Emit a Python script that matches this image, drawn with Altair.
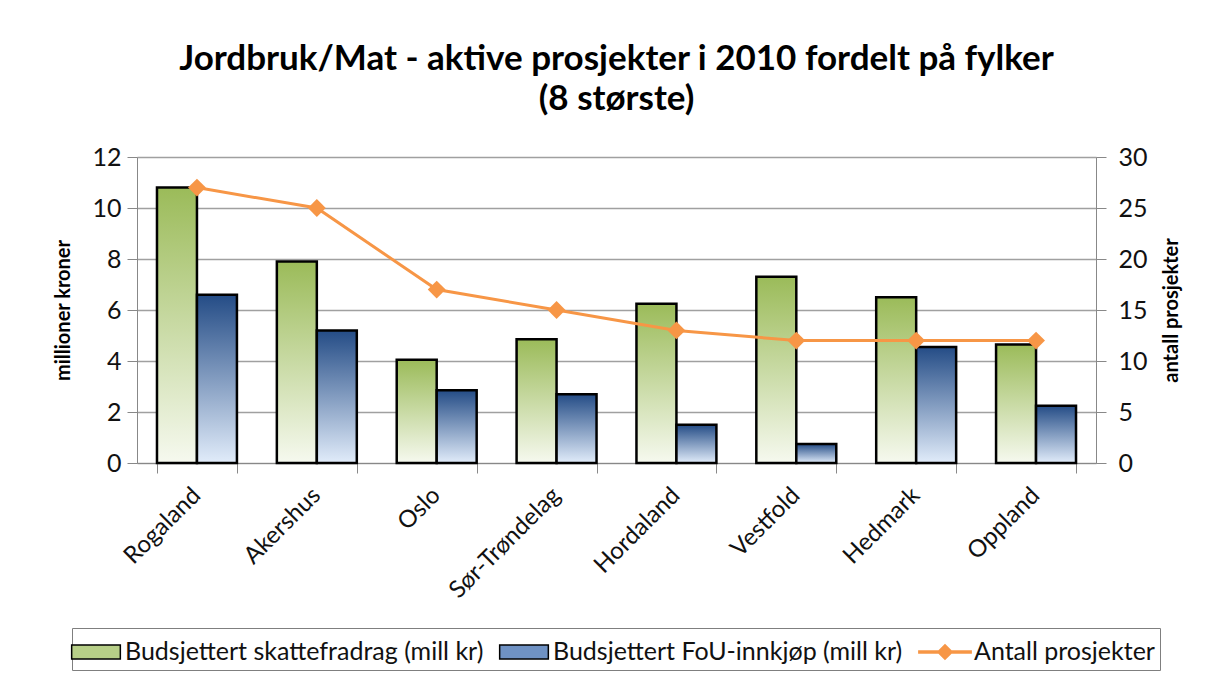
import altair as alt
import pandas as pd

fylker = ["Rogaland", "Akershus", "Oslo", "Sør-Trøndelag", "Hordaland", "Vestfold", "Hedmark", "Oppland"]
skattefradrag = [10.8, 7.9, 4.05, 4.85, 6.25, 7.3, 6.5, 4.65]
fou_innkjop = [6.6, 5.2, 2.85, 2.7, 1.5, 0.75, 4.55, 2.25]
antall = [27, 25, 17, 15, 13, 12, 12, 12]

S1 = "Budsjettert skattefradrag (mill kr)"
S2 = "Budsjettert FoU-innkjøp (mill kr)"
S3 = "Antall prosjekter"
series = [S1, S2, S3]

bars_df = pd.DataFrame(
    [{"fylke": f, "serie": S1, "verdi": v} for f, v in zip(fylker, skattefradrag)]
    + [{"fylke": f, "serie": S2, "verdi": v} for f, v in zip(fylker, fou_innkjop)]
)
line_df = pd.DataFrame({"fylke": fylker, "antall": antall, "serie": S3})

FONT = "Lato"
GREEN_GRAD = {"gradient": "linear", "x1": 0, "y1": 0, "x2": 0, "y2": 1,
              "stops": [{"offset": 0, "color": "#9BBB59"}, {"offset": 1, "color": "#F6F9EF"}]}
BLUE_GRAD = {"gradient": "linear", "x1": 0, "y1": 0, "x2": 0, "y2": 1,
             "stops": [{"offset": 0, "color": "#244C86"}, {"offset": 1, "color": "#E1ECFA"}]}
ORANGE = "#F79646"

x_enc = alt.X("fylke:N", sort=fylker, title=None,
              scale=alt.Scale(paddingInner=0.333, paddingOuter=0.1667),
              axis=alt.Axis(labelAngle=315, labelAlign="right", labelBaseline="top",
                            labelFontSize=24, labelPadding=10, labelOffset=-9, tickBand="extent",
                            tickSize=10, domainColor="#888", tickColor="#888",
                            labelColor="#111", labelFont=FONT))

left_axis = alt.Axis(values=[0, 2, 4, 6, 8, 10, 12], title="millioner kroner",
                     titleFontSize=20, titleFontWeight="bold", titleFont=FONT, titlePadding=18,
                     labelFontSize=25, labelFont=FONT, labelPadding=6, labelColor="#111",
                     tickSize=10, grid=True, gridColor="#A0A0A0", gridWidth=1.5,
                     domainColor="#888", tickColor="#888")
right_axis = alt.Axis(orient="right", values=[0, 5, 10, 15, 20, 25, 30], title="antall prosjekter",
                      titleFontSize=20, titleFontWeight="bold", titleFont=FONT, titlePadding=14,
                      titleAngle=270, titleBaseline="top",
                      labelFontSize=25, labelFont=FONT, labelPadding=12, labelColor="#111",
                      tickSize=10, grid=False, domainColor="#888", tickColor="#888")

xoff = alt.XOffset("serie:N", scale=alt.Scale(domain=[S1, S2], paddingInner=0, paddingOuter=0))
y_left = alt.Y("verdi:Q", scale=alt.Scale(domain=[0, 12]), axis=left_axis)

green = alt.Chart(bars_df).transform_filter(alt.datum.serie == S1).mark_bar(
    fill=GREEN_GRAD, stroke="black", strokeWidth=2.5
).encode(x=x_enc, xOffset=xoff, y=y_left)
blue = alt.Chart(bars_df).transform_filter(alt.datum.serie == S2).mark_bar(
    fill=BLUE_GRAD, stroke="black", strokeWidth=2.5
).encode(x=x_enc, xOffset=xoff, y=y_left)
bars = alt.layer(green, blue)

y_right = alt.Y("antall:Q", scale=alt.Scale(domain=[0, 30]), axis=right_axis)
line = alt.Chart(line_df).mark_line(color=ORANGE, strokeWidth=3).encode(x=x_enc, y=y_right)
points = alt.Chart(line_df).mark_point(shape="diamond", filled=True, color=ORANGE, size=320, opacity=1).encode(
    x=x_enc, y=y_right)

RECT = "M-1.35,-0.39H1.35V0.39H-1.35Z"
LINE_DIAMOND = "M-1.45,-0.06H1.45V0.06H-1.45Z M0,-0.4L0.4,0L0,0.4L-0.4,0Z"
legend_layer = alt.Chart(line_df).transform_filter("false").mark_point(filled=True, opacity=1).encode(
    x=x_enc, y=y_right,
    color=alt.Color("serie:N", scale=alt.Scale(domain=series, range=["#B7CF88", "#6F92C4", ORANGE]),
                    legend=alt.Legend(title=None, orient="none", legendX=-65, legendY=471,
                                      direction="horizontal",
                                      labelFontSize=25, labelFont=FONT, labelColor="#111",
                                      symbolSize=1300, symbolStrokeWidth=1.5, labelOffset=10,
                                      columnPadding=12, strokeColor="#7F7F7F", padding=5,
                                      labelLimit=600)),
    shape=alt.Shape("serie:N", scale=alt.Scale(domain=series, range=[RECT, RECT, LINE_DIAMOND]), legend=None),
    stroke=alt.Stroke("serie:N", scale=alt.Scale(domain=series, range=["black", "black", ORANGE]), legend=None),
)
lines = alt.layer(line, points, legend_layer)

chart = alt.layer(bars, lines).resolve_scale(y="independent").properties(
    width=959, height=306,
    title=alt.Title(["Jordbruk/Mat - aktive prosjekter i 2010 fordelt på fylker", "(8 største)"],
                    font=FONT, fontSize=35, fontWeight="bold", lineHeight=40, color="#000",
                    anchor="middle", frame="group", offset=28),
    padding={"left": 45, "top": 34, "right": 5, "bottom": 5},
).configure_view(stroke=None).configure(background="white")

chart.save("out.html", embed_options={"renderer": "svg", "actions": False})
